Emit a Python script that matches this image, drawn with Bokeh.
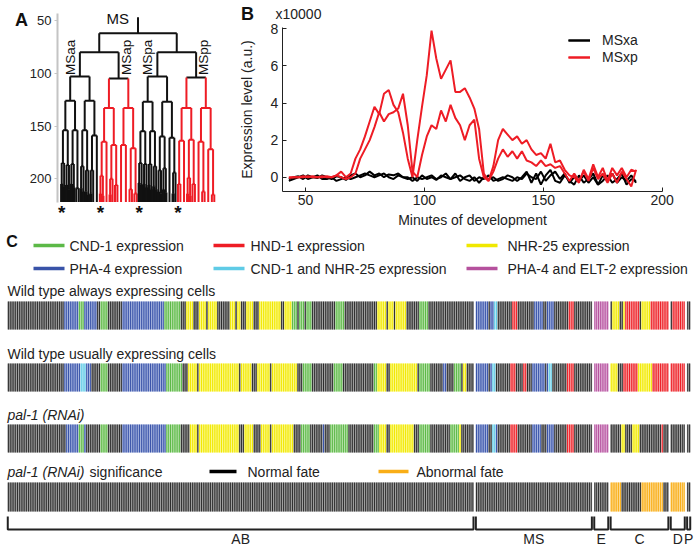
import math
from bokeh.plotting import figure
from bokeh.models import Range1d, FixedTicker, Legend, LegendItem
from bokeh.layouts import column, row
from bokeh.embed import file_html
from bokeh.resources import INLINE
from bokeh.core.properties import value

FONT = "Liberation Sans"

# ======================= DATA =======================
# ---- Panel A: MS lineage tree (division times in minutes, heap order per depth; 999 = no division)
root_birth = 47
lineage_end = 222
div_d0 = [62]
div_d1 = [80, 80]
div_d2 = [103, 105, 103, 104]
div_d3 = [126, 126, 133, 133, 127, 127, 133, 133]
div_d4 = [154, 154, 154, 159, 165, 168, 168, 171,
          155, 155, 160, 161, 164, 163, 165, 172]
div_d5 = [185, 187, 186, 209, 188, 192, 192, 999,
          197, 999, 200, 206, 999, 999, 210, 214,
          185, 186, 186, 188, 192, 190, 999, 194,
          205, 999, 199, 205, 999, 212, 999, 215]
div_d6 = [205, 207, 206, 210, 205, 208, 999, 999, 209, 212, 212, 215, 214, 999, 999, 999,
          214, 216, 999, 999, 215, 999, 999, 999, 999, 999, 999, 999, 999, 999, 999, 999,
          204, 206, 205, 208, 206, 210, 207, 210, 212, 214, 210, 213, 999, 999, 214, 999,
          999, 999, 999, 999, 214, 216, 999, 999, 999, 999, 999, 999, 999, 999, 999, 999]
a_ticks = [50, 100, 150, 200]
clade_names = ["MSaa", "MSap", "MSpa", "MSpp"]
clade_hnd1 = [False, True, False, True]
starred_clades = [0, 1, 2, 3]

# ---- Panel B: expression traces (x10000 a.u.)
minutes = list(range(43, 190, 2))
msxp_1 = [0.0, 0.0, 0.0, 0.05, 0.0, 0.05, 0.0, 0.0, 0.05, 0.0,
          0.1, 0.3, 0.0, 0.2, 1.0, 1.5, 2.2, 3.0, 3.8, 3.4,
          4.5, 4.7, 3.9, 3.5, 2.4, 1.0, 0.0, 2.0, 3.8, 5.5,
          7.9, 6.4, 5.3, 5.8, 6.3, 4.6, 4.6, 4.8, 4.3, 3.7,
          2.6, 0.2, -0.2, 0.6, 2.0, 2.6, 2.3, 2.0, 2.2, 1.8,
          2.0, 1.5, 1.2, 1.3, 1.0, 1.8, 0.8, 0.9, 0.4, 0.1,
          0.0, -0.3, 0.4, -0.1, 0.7, 0.0, 0.5, -0.2, 0.5, 0.1,
          0.5, 0.0, 0.4, 0.3]
msxp_2 = [-0.05, 0.0, 0.0, 0.0, 0.05, 0.0, 0.0, 0.05, 0.0, 0.0,
          0.1, 0.0, -0.1, 0.0, 0.2, 1.0, 1.5, 2.0, 2.7, 3.5,
          3.0, 3.4, 3.5, 3.7, 4.5, 2.8, 0.3, 0.0, 1.2, 2.2,
          2.8, 2.6, 3.6, 3.0, 3.9, 3.2, 2.8, 2.0, 2.8, 3.1,
          1.0, 0.0, -0.2, 0.3, 1.0, 1.5, 1.1, 1.4, 1.0, 1.4,
          0.9, 0.8, 0.6, 0.9, 0.6, 0.7, 0.5, 0.6, 0.2, -0.2,
          0.2, -0.2, 0.3, -0.2, 0.5, -0.1, 0.2, -0.3, 0.2, -0.3,
          0.3, -0.1, -0.5, 0.4]
msxa_1 = [-0.1, 0.0, 0.05, -0.1, 0.1, 0.0, -0.05, 0.1, 0.0, -0.1,
          0.05, 0.0, -0.15, 0.1, 0.2, 0.0, 0.1, 0.3, 0.1, 0.2,
          0.0, 0.15, 0.1, 0.2, 0.0, -0.1, 0.0, -0.2, 0.1, -0.1,
          0.0, -0.15, 0.1, 0.0, -0.1, 0.2, -0.2, 0.0, 0.1, -0.2,
          0.0, -0.1, 0.1, -0.2, -0.1, 0.0, -0.1, -0.2, 0.0, -0.1,
          0.2, 0.0, -0.1, 0.3, -0.2, 0.1, 0.3, -0.1, 0.2, -0.3,
          0.0, -0.2, 0.1, -0.3, 0.0, -0.4, 0.1, -0.2, 0.2, -0.3,
          0.0, -0.2, 0.1, -0.3]
msxa_2 = [-0.2, -0.1, 0.0, 0.1, -0.1, 0.0, 0.1, -0.1, -0.1, 0.0,
          -0.2, -0.1, 0.0, -0.1, 0.0, 0.1, 0.2, 0.1, 0.0, 0.1,
          0.2, 0.0, -0.1, 0.1, 0.0, 0.0, -0.2, 0.0, -0.1, 0.0,
          0.1, -0.1, 0.0, 0.2, -0.1, 0.0, 0.1, -0.1, -0.2, 0.0,
          -0.3, 0.0, -0.1, 0.0, -0.2, -0.1, 0.1, 0.0, -0.2, 0.0,
          0.3, -0.3, 0.2, -0.4, 0.1, 0.4, -0.2, -0.3, 0.1, -0.2,
          -0.4, 0.1, -0.3, -0.1, 0.2, -0.4, -0.2, 0.1, -0.3, -0.1,
          0.2, -0.4, -0.1, -0.2]
b_xticks = [50, 100, 150, 200]
b_yticks = [0, 2, 4, 6, 8]

# ---- Panel C: per-cell expression barcodes (run-length: code, number of cells)
group_names = ["AB", "MS", "E", "C", "D", "P"]
group_sizes = [256, 64, 8, 32, 8, 2]
legend_rows = [[("CND-1 expression", "g"), (" HND-1 expression", "r"), (" NHR-25 expression", "y")],
               [("PHA-4 expression", "b"), ("CND-1 and NHR-25 expression", "c"), ("PHA-4 and ELT-2 expression", "m")]]
fate_legend = [("Normal fate", "k"), ("Abnormal fate", "o")]

wt_always = [
    [("k",31),("b",8),("g",3),("b",7),("k",2),("g",4),("k",8),("b",23),("g",9),("k",3),("y",4),("k",3),
     ("y",4),("k",1),("y",5),("k",7),("y",3),("k",1),("y",2),("k",3),("y",4),("k",3),("y",12),("k",2),
     ("y",4),("g",3),("k",1),("g",3),("k",1),("g",3),("k",13),("g",5),("k",18),("y",5),("k",1),("y",3),
     ("k",1),("y",6),("k",7),("g",5),("k",25)],
    [("b",7),("k",1),("b",2),("c",2),("k",8),("r",3),("k",9),("b",5),("k",2),("b",4),("k",8),("r",3),("k",10)],
    [("m",8)],
    [("k",1),("y",4),("k",2),("y",1),("r",8),("k",1),("y",5),("r",10)],
    [("k",1),("r",7)],
    [("k",2)],
]
wt_usually = [
    [("k",31),("b",9),("c",3),("b",3),("k",5),("g",4),("k",8),("b",24),("g",9),("k",3),("y",5),("k",1),
     ("y",22),("k",1),("y",6),("k",3),("y",7),("k",1),("y",14),("k",3),("g",5),("k",12),("g",5),("k",17),
     ("g",2),("y",5),("k",2),("y",15),("k",1),("g",6),("k",7),("b",2),("k",4),("g",4),("k",1),("y",2),("k",4)],
    [("b",7),("k",1),("b",1),("c",2),("k",8),("r",3),("k",4),("r",2),("k",3),("b",7),("k",1),("b",1),("c",2),
     ("k",8),("r",4),("k",10)],
    [("m",8)],
    [("y",4),("k",3),("r",8),("y",8),("r",9)],
    [("r",8)],
    [("k",2)],
]
pal1_rnai = [
    [("k",32),("b",7),("g",3),("b",1),("k",8),("g",4),("k",8),("b",24),("g",8),("k",5),("y",4),("k",1),
     ("y",22),("k",3),("y",5),("k",4),("y",5),("k",1),("y",12),("k",4),("g",5),("k",7),("b",1),("k",3),
     ("g",10),("k",14),("g",3),("y",4),("k",2),("y",13),("k",3),("g",6),("k",11),("g",5),("y",1),("k",7)],
    [("b",7),("k",2),("c",2),("b",1),("k",7),("r",4),("k",8),("b",5),("k",3),("b",4),("k",7),("r",4),("k",10)],
    [("m",8)],
    [("k",6),("y",2),("k",4),("y",4),("k",12),("r",1),("k",3)],
    [("k",8)],
    [("k",2)],
]
pal1_significance = [
    [("k",256)],
    [("k",64)],
    [("k",8)],
    [("o",6),("k",11),("o",12),("k",3)],
    [("o",8)],
    [("k",2)],
]

# ======================= STYLE =======================
BLACK = "#111111"
RED = "#ee1c25"
PAL = {
    "k": ("#2e2e2e", "#a2a2a2"),
    "g": ("#5cb947", "#b8e2aa"),
    "r": ("#ee1d25", "#f7a3a3"),
    "y": ("#f0e800", "#fdf98c"),
    "b": ("#3953a8", "#a6b5e2"),
    "c": ("#5fcbe6", "#bbeaf6"),
    "m": ("#b5519d", "#e3b5db"),
    "o": ("#f9ae17", "#fdd98e"),
}
TOP_H = 230


def style_axis(ax, size="14px"):
    ax.major_label_text_font = FONT
    ax.major_label_text_font_size = size
    ax.major_label_text_color = "#222222"
    ax.axis_label_text_font = FONT
    ax.axis_label_text_font_size = size
    ax.axis_label_text_font_style = "normal"
    ax.axis_label_text_color = "#222222"
    ax.minor_tick_in = 0
    ax.minor_tick_out = 0


def bare(p):
    p.outline_line_color = None
    p.grid.visible = False


# ======================= PANEL A =======================
pA = figure(width=240, height=TOP_H, x_range=Range1d(-0.3871, 1.1613), y_range=Range1d(249.0, 31.05),
            output_backend="svg", toolbar_location=None, x_axis_location=None, min_border=0)
pA.extra_x_ranges = {"px": Range1d(0, 240)}
pA.extra_y_ranges = {"px": Range1d(TOP_H, 0)}
bare(pA)
style_axis(pA.yaxis[0], "13px")
pA.yaxis.fixed_location = -0.0194
pA.yaxis.ticker = FixedTicker(ticks=a_ticks)
pA.yaxis.bounds = (43.4, lineage_end)
pA.yaxis.axis_line_color = "#c4c4c4"
pA.yaxis.axis_line_width = 2
pA.yaxis.major_tick_line_color = "#c4c4c4"
pA.yaxis.major_tick_out = 3
pA.yaxis.major_tick_in = 0
pA.yaxis.major_label_standoff = 3

div_levels = [div_d0, div_d1, div_d2, div_d3, div_d4, div_d5, div_d6]
seg = dict(x0=[], y0=[], x1=[], y1=[], color=[])


def add_seg(x0, y0, x1, y1, c):
    seg["x0"].append(x0); seg["y0"].append(y0)
    seg["x1"].append(x1); seg["y1"].append(y1)
    seg["color"].append(c)


def node_color(depth, idx):
    if depth >= 3 and clade_hnd1[idx >> (depth - 2)]:
        return RED
    return BLACK


def grow(depth, idx, birth):
    x = (idx + 0.5) / 2 ** depth
    col = node_color(depth, idx)
    t = div_levels[depth][idx] if depth < len(div_levels) else 999
    if t >= lineage_end:
        add_seg(x, birth, x, lineage_end, col)
        return
    add_seg(x, birth, x, t, col)
    xl = (2 * idx + 0.5) / 2 ** (depth + 1)
    xr = (2 * idx + 1.5) / 2 ** (depth + 1)
    add_seg(xl, t, xr, t, col)
    grow(depth + 1, 2 * idx, t)
    grow(depth + 1, 2 * idx + 1, t)


grow(0, 0, root_birth)
pA.segment(x0="x0", y0="y0", x1="x1", y1="y1", color="color", line_width=2, source=seg)

pA.text(x=[0.5], y=[48], text=["MS"], x_offset=-9, text_align="right", text_baseline="middle",
        text_font=value(FONT), text_font_size="15px", text_color="#111111")
left_cl = [i for i in range(4) if i % 2 == 0]
right_cl = [i for i in range(4) if i % 2 == 1]
pA.text(x=[(i + 0.5) / 4 for i in left_cl], y=[85] * len(left_cl), text=[clade_names[i] for i in left_cl],
        angle=math.pi / 2, x_offset=-2, text_align="center", text_baseline="bottom",
        text_font=value(FONT), text_font_size="13.5px", text_color="#111111")
pA.text(x=[(i + 0.5) / 4 for i in right_cl], y=[85] * len(right_cl), text=[clade_names[i] for i in right_cl],
        angle=math.pi / 2, x_offset=0, text_align="center", text_baseline="top",
        text_font=value(FONT), text_font_size="13.5px", text_color="#111111")
pA.text(x=[(c * 16 + 0.5) / 64 for c in starred_clades], y=[lineage_end] * len(starred_clades),
        text=["*"] * len(starred_clades), text_align="center", text_baseline="top", y_offset=0,
        text_font=value(FONT), text_font_size="19px", text_font_style="bold", text_color="#111111")
pA.text(x=[21], y=[19], text=["A"], x_range_name="px", y_range_name="px", text_align="center",
        text_baseline="middle", text_font=value(FONT), text_font_size="18px", text_font_style="bold",
        text_color="#111111")

# ======================= PANEL B =======================
pB = figure(width=457, height=TOP_H, x_range=Range1d(22.67, 214.84), y_range=Range1d(-2.873, 9.526),
            output_backend="svg", toolbar_location=None, min_border=0)
pB.extra_x_ranges = {"px": Range1d(240, 697)}
pB.extra_y_ranges = {"px": Range1d(TOP_H, 0)}
bare(pB)
for ax in pB.axis:
    style_axis(ax, "14px")
    ax.axis_line_color = "#222222"
    ax.major_tick_line_color = "#222222"
    ax.major_tick_in = 4
    ax.major_tick_out = 0
    ax.major_label_standoff = 4
pB.xaxis.fixed_location = -0.755
pB.yaxis.fixed_location = 40.2
pB.xaxis.bounds = (40.2, 200)
pB.yaxis.bounds = (-0.755, 8.09)
pB.xaxis.ticker = FixedTicker(ticks=b_xticks)
pB.yaxis.ticker = FixedTicker(ticks=b_yticks)
pB.xaxis.axis_label = "Minutes of development"
pB.yaxis.axis_label = "Expression level (a.u.)"
pB.xaxis.axis_label_standoff = 3
pB.yaxis.axis_label_standoff = 13

ra1 = pB.line(minutes, msxa_1, color="#000000", line_width=2)
ra2 = pB.line(minutes, msxa_2, color="#000000", line_width=2)
rp1 = pB.line(minutes, msxp_1, color=RED, line_width=2)
rp2 = pB.line(minutes, msxp_2, color=RED, line_width=2)
legB = Legend(items=[LegendItem(label="MSxa", renderers=[ra1, ra2]),
                     LegendItem(label="MSxp", renderers=[rp1, rp2])],
              location=(328, 165), border_line_color=None, background_fill_alpha=0,
              padding=0, spacing=1, glyph_width=22, glyph_height=14, label_height=14,
              label_standoff=12, label_text_font=FONT, label_text_font_size="14px",
              label_text_color="#222222")
pB.add_layout(legB)
pB.text(x=[247], y=[13], text=["B"], x_range_name="px", y_range_name="px", text_align="center",
        text_baseline="middle", text_font=value(FONT), text_font_size="18px", text_font_style="bold",
        text_color="#111111")
pB.text(x=[275], y=[13], text=["x10000"], x_range_name="px", y_range_name="px", text_align="left",
        text_baseline="middle", text_font=value(FONT), text_font_size="14px", text_color="#222222")

# ======================= PANEL C =======================
group_start = []
s = 0
for size in group_sizes:
    group_start.append(s)
    s += size + 1
n_slots = s - 1

pC = figure(width=697, height=549 - TOP_H, x_range=Range1d(-3.843, n_slots + 3.843),
            y_range=Range1d(549, TOP_H), output_backend="svg", toolbar_location=None,
            x_axis_location=None, y_axis_location=None, min_border=0)
pC.extra_x_ranges = {"px": Range1d(0, 697)}
bare(pC)

strips = [(wt_always, 301, 329), (wt_usually, 363, 391), (pal1_rnai, 424, 452), (pal1_significance, 482, 511)]
for runs_by_group, ytop, ybot in strips:
    xs, cols, tints = [], [], []
    for g, runs in enumerate(runs_by_group):
        k = 0
        for code, n in runs:
            for _ in range(n):
                xs.append(group_start[g] + k + 0.5)
                cols.append(PAL[code][0])
                tints.append(PAL[code][1])
                k += 1
    pC.vbar(x=xs, width=1.0, top=ytop, bottom=ybot, fill_color=tints, line_color=None)
    pC.vbar(x=xs, width=0.55, top=ytop, bottom=ybot, fill_color=cols, line_color=None)

TXT = dict(text_font=value(FONT), text_font_size="14px", text_color="#222222",
           text_baseline="middle", x_range_name="px")
pC.text(x=[11.5], y=[241], text=["C"], text_align="center", text_baseline="middle", x_range_name="px",
        text_font=value(FONT), text_font_size="16px", text_font_style="bold", text_color="#111111")

col_line_x = [(33, 64), (213, 244), (466, 497)]
col_text_x = [69, 250, 507]
row_y = [245, 268]
for r, items in enumerate(legend_rows):
    for c, (lab, code) in enumerate(items):
        pC.segment(x0=[col_line_x[c][0]], y0=[row_y[r]], x1=[col_line_x[c][1]], y1=[row_y[r]],
                   x_range_name="px", line_color=PAL[code][0], line_width=3.5)
        pC.text(x=[col_text_x[c]], y=[row_y[r]], text=[lab], text_align="left", **TXT)

pC.text(x=[7], y=[290], text=["Wild type always expressing cells"], text_align="left", **TXT)
pC.text(x=[7], y=[353], text=["Wild type usually expressing cells"], text_align="left", **TXT)
pC.text(x=[7], y=[414], text=["pal-1 (RNAi)"], text_align="left", text_font_style="italic", **TXT)
pC.text(x=[7], y=[471], text=["pal-1 (RNAi)"], text_align="left", text_font_style="italic", **TXT)
pC.text(x=[89], y=[471], text=[" significance"], text_align="left", **TXT)

fate_line_x = [(209, 236), (378, 408)]
fate_text_x = [247, 416]
for i, (lab, code) in enumerate(fate_legend):
    pC.segment(x0=[fate_line_x[i][0]], y0=[471], x1=[fate_line_x[i][1]], y1=[471], x_range_name="px",
               line_color=("#000000" if code == "k" else PAL[code][0]), line_width=3.5)
    pC.text(x=[fate_text_x[i]], y=[471], text=[lab], text_align="left", **TXT)

bx, by = [], []
for g, size in enumerate(group_sizes):
    a = group_start[g] + 0.15
    b = group_start[g] + size - 0.15
    bx.append([a, a, b, b])
    by.append([516, 529, 529, 516])
pC.multi_line(xs=bx, ys=by, line_color="#222222", line_width=2)
pC.text(x=[group_start[g] + group_sizes[g] / 2 for g in range(len(group_sizes))],
        y=[538] * len(group_sizes), text=group_names, text_align="center", text_baseline="middle",
        text_font=value(FONT), text_font_size="14px", text_color="#222222")

layout = column(row(pA, pB), pC)
open("out.html", "w").write(file_html(layout, INLINE))
